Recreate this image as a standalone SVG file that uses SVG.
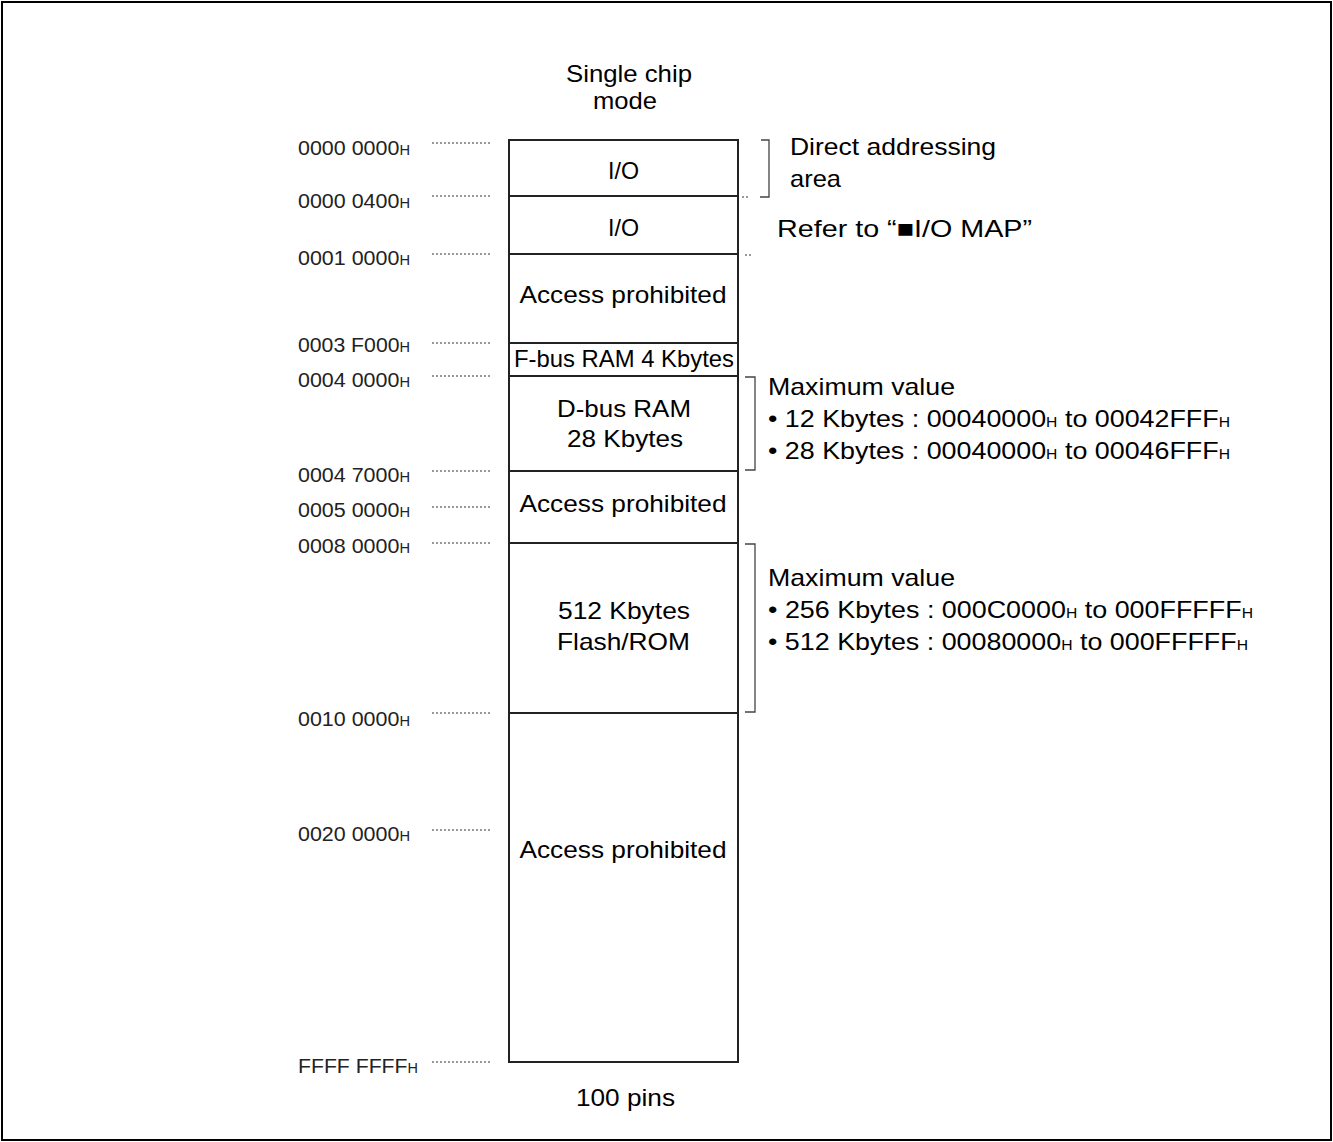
<svg xmlns="http://www.w3.org/2000/svg" width="1333" height="1142" viewBox="0 0 1333 1142">
<style>
text{font-family:"Liberation Sans",Arial,sans-serif;fill:#000}
.t{font-size:24px}
.c{text-anchor:middle}
.a{font-size:20.5px;fill:#222}
.s{font-size:14px}
.box{fill:#fff;stroke:#222;stroke-width:2}
.sep{stroke:#222;stroke-width:2}
.dot{stroke:#333;stroke-width:1;stroke-dasharray:2,2;fill:none}
.br{stroke:#444;stroke-width:1.3;fill:none}
</style>
<rect x="2" y="2" width="1329" height="1138" fill="#fff" stroke="#000" stroke-width="2"/>
<text class="t c" x="629" y="82" textLength="126" lengthAdjust="spacingAndGlyphs">Single chip</text>
<text class="t c" x="625" y="109" textLength="64" lengthAdjust="spacingAndGlyphs">mode</text>
<g id="addresses">
<text class="a" x="298" y="155" textLength="112" lengthAdjust="spacingAndGlyphs">0000 0000<tspan class="s">H</tspan></text>
<text class="a" x="298" y="208" textLength="112" lengthAdjust="spacingAndGlyphs">0000 0400<tspan class="s">H</tspan></text>
<text class="a" x="298" y="265" textLength="112" lengthAdjust="spacingAndGlyphs">0001 0000<tspan class="s">H</tspan></text>
<text class="a" x="298" y="352" textLength="112" lengthAdjust="spacingAndGlyphs">0003 F000<tspan class="s">H</tspan></text>
<text class="a" x="298" y="387" textLength="112" lengthAdjust="spacingAndGlyphs">0004 0000<tspan class="s">H</tspan></text>
<text class="a" x="298" y="482" textLength="112" lengthAdjust="spacingAndGlyphs">0004 7000<tspan class="s">H</tspan></text>
<text class="a" x="298" y="517" textLength="112" lengthAdjust="spacingAndGlyphs">0005 0000<tspan class="s">H</tspan></text>
<text class="a" x="298" y="553" textLength="112" lengthAdjust="spacingAndGlyphs">0008 0000<tspan class="s">H</tspan></text>
<text class="a" x="298" y="726" textLength="112" lengthAdjust="spacingAndGlyphs">0010 0000<tspan class="s">H</tspan></text>
<text class="a" x="298" y="841" textLength="112" lengthAdjust="spacingAndGlyphs">0020 0000<tspan class="s">H</tspan></text>
<text class="a" x="298" y="1073" textLength="120" lengthAdjust="spacingAndGlyphs">FFFF FFFF<tspan class="s">H</tspan></text>
</g>
<g id="connectors">
<path class="dot" d="M432 143H490M432 196H490M432 254H490M432 343H490M432 376H490M432 471H490M432 507H490M432 543H490M432 713H490M432 830H490M432 1062H490"/>
<path class="dot" d="M742 197H750M745 255H752"/>
<path class="br" d="M761 140H769V197H760"/>
<path class="br" d="M745 377H755V470H745"/>
<path class="br" d="M745 544H755V712H745"/>
</g>
<g id="memmap">
<rect class="box" x="509" y="140" width="229" height="922"/>
<g id="io1"><text class="t c" x="623.5" y="179" textLength="31" lengthAdjust="spacingAndGlyphs">I/O</text></g>
<line class="sep" x1="509" y1="196" x2="738" y2="196"/>
<g id="io2"><text class="t c" x="623.5" y="236" textLength="31" lengthAdjust="spacingAndGlyphs">I/O</text></g>
<line class="sep" x1="509" y1="254" x2="738" y2="254"/>
<g id="prohib1"><text class="t c" x="623" y="303" textLength="207" lengthAdjust="spacingAndGlyphs">Access prohibited</text></g>
<line class="sep" x1="509" y1="343" x2="738" y2="343"/>
<g id="fbus"><text class="t c" x="624" y="367" textLength="220" lengthAdjust="spacingAndGlyphs">F-bus RAM 4 Kbytes</text></g>
<line class="sep" x1="509" y1="376" x2="738" y2="376"/>
<g id="dbus"><text class="t c" x="624" y="417" textLength="134" lengthAdjust="spacingAndGlyphs">D-bus RAM</text><text class="t c" x="625" y="447" textLength="116" lengthAdjust="spacingAndGlyphs">28 Kbytes</text></g>
<line class="sep" x1="509" y1="471" x2="738" y2="471"/>
<g id="prohib2"><text class="t c" x="623" y="512" textLength="207" lengthAdjust="spacingAndGlyphs">Access prohibited</text></g>
<line class="sep" x1="509" y1="543" x2="738" y2="543"/>
<g id="flash"><text class="t c" x="624" y="619" textLength="132" lengthAdjust="spacingAndGlyphs">512 Kbytes</text><text class="t c" x="623.5" y="650" textLength="133" lengthAdjust="spacingAndGlyphs">Flash/ROM</text></g>
<line class="sep" x1="509" y1="713" x2="738" y2="713"/>
<g id="prohib3"><text class="t c" x="623" y="858" textLength="207" lengthAdjust="spacingAndGlyphs">Access prohibited</text></g>
</g>
<text class="t c" x="625.5" y="1106" textLength="99" lengthAdjust="spacingAndGlyphs">100 pins</text>
<g id="notes">
<text class="t" x="790" y="155" textLength="206" lengthAdjust="spacingAndGlyphs">Direct addressing</text>
<text class="t" x="790" y="187" textLength="51" lengthAdjust="spacingAndGlyphs">area</text>
<text class="t" x="777" y="237" textLength="255" lengthAdjust="spacingAndGlyphs">Refer to “■I/O MAP”</text>
<text class="t" x="768" y="395" textLength="187" lengthAdjust="spacingAndGlyphs">Maximum value</text>
<text class="t" x="768" y="427" textLength="462" lengthAdjust="spacingAndGlyphs">• 12 Kbytes : 00040000<tspan class="s">H</tspan> to 00042FFF<tspan class="s">H</tspan></text>
<text class="t" x="768" y="459" textLength="462" lengthAdjust="spacingAndGlyphs">• 28 Kbytes : 00040000<tspan class="s">H</tspan> to 00046FFF<tspan class="s">H</tspan></text>
<text class="t" x="768" y="586" textLength="187" lengthAdjust="spacingAndGlyphs">Maximum value</text>
<text class="t" x="768" y="618" textLength="485" lengthAdjust="spacingAndGlyphs">• 256 Kbytes : 000C0000<tspan class="s">H</tspan> to 000FFFFF<tspan class="s">H</tspan></text>
<text class="t" x="768" y="650" textLength="480" lengthAdjust="spacingAndGlyphs">• 512 Kbytes : 00080000<tspan class="s">H</tspan> to 000FFFFF<tspan class="s">H</tspan></text>
</g>
</svg>
